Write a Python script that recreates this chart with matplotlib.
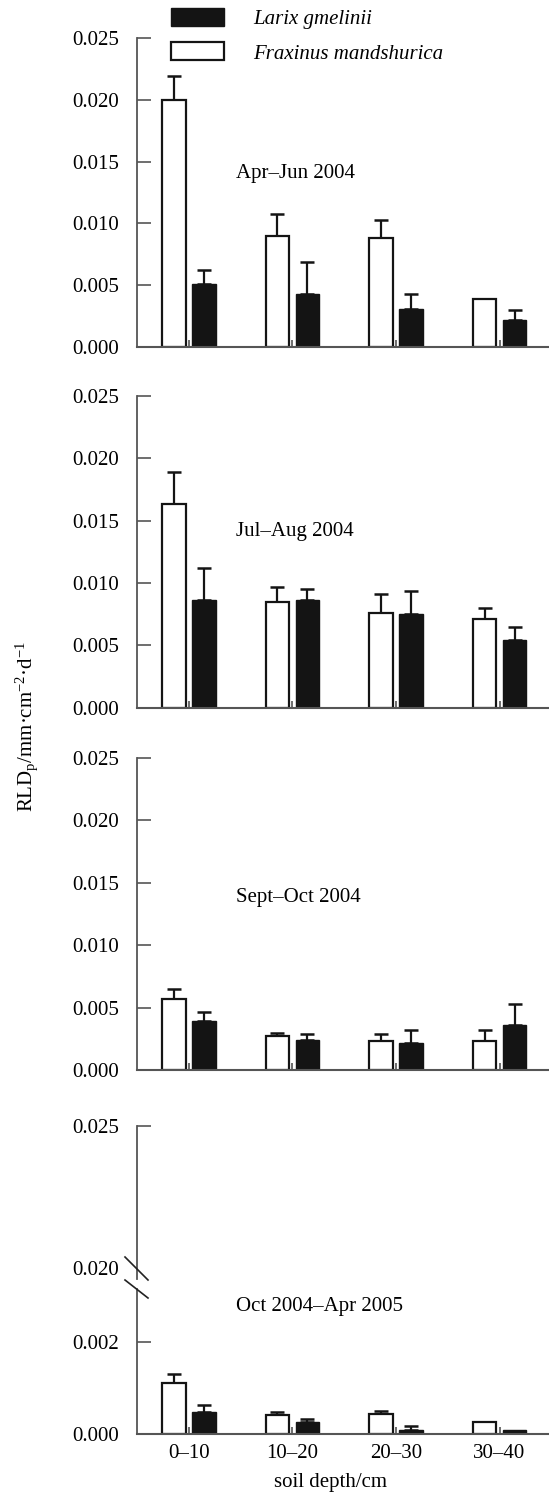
import numpy as np
import matplotlib
matplotlib.use('Agg')
import matplotlib.pyplot as plt
from matplotlib.patches import Patch
from matplotlib.lines import Line2D

plt.rcParams['font.family'] = ['Liberation Serif', 'DejaVu Serif']
plt.rcParams['mathtext.fontset'] = 'custom'
plt.rcParams['mathtext.rm'] = 'Liberation Serif'
plt.rcParams['mathtext.it'] = 'Liberation Serif:italic'

# 数据
depths = ['0–10', '10–20', '20–30', '30–40']
periods = ['Apr–Jun 2004', 'Jul–Aug 2004', 'Sept–Oct 2004', 'Oct 2004–Apr 2005']

fraxinus_mean = [[0.0200, 0.0090, 0.0088, 0.0039],
                 [0.0163, 0.0085, 0.0076, 0.0071],
                 [0.0057, 0.0027, 0.0023, 0.0023],
                 [0.00111, 0.00042, 0.00043, 0.00027]]
fraxinus_err = [[0.0019, 0.0018, 0.00145, 0.0],
                [0.0026, 0.0012, 0.0015, 0.0009],
                [0.0008, 0.0003, 0.0006, 0.0009],
                [0.00019, 0.00007, 0.00007, 0.0]]
larix_mean = [[0.0051, 0.0043, 0.0031, 0.0022],
              [0.0086, 0.0086, 0.0075, 0.0054],
              [0.0039, 0.0024, 0.0022, 0.0036],
              [0.00049, 0.00026, 0.00010, 0.00010]]
larix_err = [[0.0011, 0.0026, 0.0012, 0.0008],
             [0.0026, 0.0009, 0.0019, 0.0011],
             [0.00075, 0.0005, 0.0010, 0.0017],
             [0.00015, 0.00007, 0.00007, 0.0]]

W, H = 549, 1493
fig = plt.figure(figsize=(W / 100, H / 100), dpi=100)

FS = 15
GRAY = '#555555'
BLACK = '#141414'
x = np.arange(len(depths))
off, bw = 0.145, 0.225


def fy(py):
    return 1 - py / H


def style(ax, bottom=True):
    for s in ['top', 'right']:
        ax.spines[s].set_visible(False)
    ax.spines['left'].set_color(GRAY)
    ax.spines['left'].set_linewidth(1.3)
    if bottom:
        ax.spines['bottom'].set_color(GRAY)
        ax.spines['bottom'].set_linewidth(1.5)
    else:
        ax.spines['bottom'].set_visible(False)
    ax.tick_params(axis='y', direction='in', length=10, width=1.2, color=GRAY,
                   labelsize=FS, pad=13)
    ax.tick_params(axis='x', direction='in', length=5, width=1.2, color=GRAY,
                   labelsize=FS, pad=7)
    ax.set_xlim(-0.502, 3.478)
    ax.patch.set_alpha(0)


def draw_bars(ax, k):
    fm, fe = np.array(fraxinus_mean[k]), np.array(fraxinus_err[k])
    lm, le = np.array(larix_mean[k]), np.array(larix_err[k])
    for xs, m, e in [(x - off, fm, fe), (x + off, lm, le)]:
        sel = e > 0
        ax.errorbar(xs[sel], m[sel], yerr=[np.zeros(sel.sum()), e[sel]], fmt='none',
                    ecolor=BLACK, elinewidth=1.6, capsize=5, capthick=1.8, zorder=1)
    ax.bar(x - off, fm, bw, color='white', edgecolor=BLACK, linewidth=1.6, zorder=2)
    ax.bar(x + off, lm, bw, color=BLACK, edgecolor=BLACK, linewidth=1.0, zorder=2)


left = 137 / W
# (顶部像素, 底部像素) of the three normal panels
boxes = [(38, 347), (396, 707.7), (758, 1070)]
label_y = [0.563, 0.564, 0.554]
for k, (t, b) in enumerate(boxes):
    ax = fig.add_axes([left, fy(b), 1 - left, (b - t) / H])
    draw_bars(ax, k)
    style(ax)
    ax.set_ylim(0, 0.025)
    ax.set_yticks(np.arange(0, 0.0251, 0.005))
    ax.set_yticklabels(['%.3f' % v for v in np.arange(0, 0.0251, 0.005)])
    ax.set_xticks(x)
    ax.set_xticklabels([])
    ax.text(0.24, label_y[k], periods[k], transform=ax.transAxes, fontsize=FS,
            va='center', ha='left')

# 最后一个面板：断轴
up_t, up_b = 1126, 1279
lo_t, lo_b = 1289, 1434.3
ax_up = fig.add_axes([left, fy(up_b), 1 - left, (up_b - up_t) / H])
style(ax_up, bottom=False)
ax_up.set_ylim(0.020 - (up_b - 1268) / 28400, 0.025)
ax_up.set_yticks([0.020, 0.025])
ax_up.set_yticklabels(['0.020', '0.025'])
ax_up.yaxis.get_major_ticks()[0].tick1line.set_visible(False)
ax_up.set_xticks([])

ax_lo = fig.add_axes([left, fy(lo_b), 1 - left, (lo_b - lo_t) / H])
draw_bars(ax_lo, 3)
style(ax_lo)
ax_lo.set_ylim(0, (lo_b - lo_t) / 46300)
ax_lo.set_yticks([0.000, 0.002])
ax_lo.set_yticklabels(['0.000', '0.002'])
ax_lo.set_xticks(x)
ax_lo.set_xticklabels(depths)
ax_lo.text(0.24, 0.883, periods[3], transform=ax_lo.transAxes, fontsize=FS,
           va='center', ha='left')

# 断轴斜线
for (x0, y0, x1, y1) in [(125, 1257, 148, 1280), (125, 1280, 148, 1298)]:
    fig.add_artist(Line2D([x0 / W, x1 / W], [fy(y0), fy(y1)], color='#222222', lw=1.2))

# 轴标签
fig.text(27 / W, fy(727), r'RLD$_\mathrm{p}$/mm·cm$^{-2}$·d$^{-1}$', rotation=90,
         fontsize=FS, ha='center', va='center')
fig.text(330 / W, fy(1483), 'soil depth/cm', fontsize=FS, ha='center', va='center')

# 图例
handles = [Patch(facecolor=BLACK, edgecolor=BLACK, linewidth=1.0),
           Patch(facecolor='white', edgecolor=BLACK, linewidth=1.6)]
fig.legend(handles, ['Larix gmelinii', 'Fraxinus mandshurica'], loc='upper left',
           bbox_to_anchor=(171 / W, fy(8)), frameon=False, borderpad=0,
           borderaxespad=0, handlelength=2.55, handleheight=0.96,
           handletextpad=1.4, labelspacing=0.63,
           prop={'family': 'Liberation Serif', 'style': 'italic', 'size': FS})

fig.savefig('out.png', dpi=100)
